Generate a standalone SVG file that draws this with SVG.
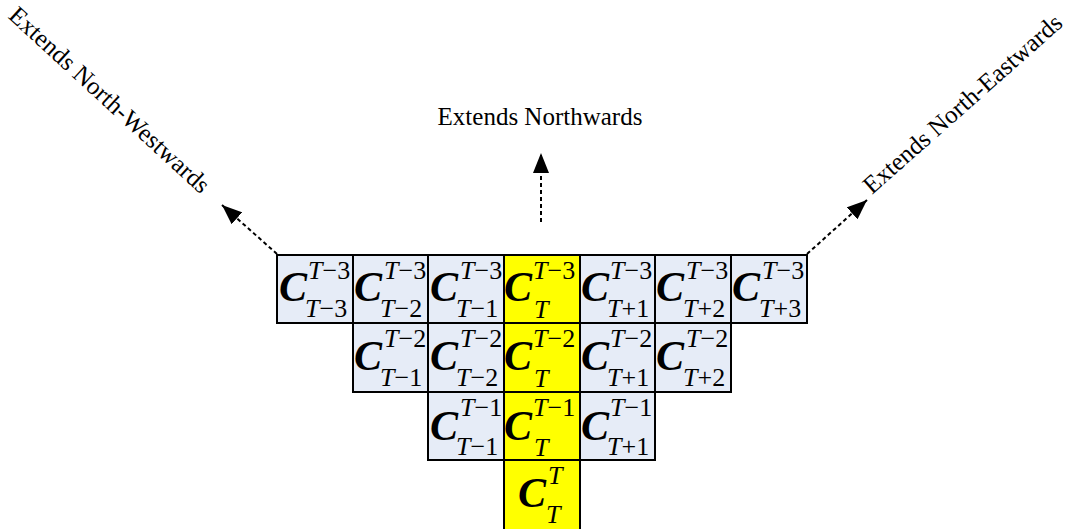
<svg xmlns="http://www.w3.org/2000/svg" width="1066" height="529" viewBox="0 0 1066 529">
<style>
.cell{fill:#E6ECF7;stroke:#000;stroke-width:2}
.y{fill:#FFFF00;stroke:#000;stroke-width:2}
.C{font-family:"Liberation Serif","Times New Roman",serif;font-weight:bold;font-style:italic;font-size:42px;fill:#000}
.s{font-family:"Liberation Serif","Times New Roman",serif;font-size:26px;fill:#000}
.i{font-style:italic}
.lbl{font-family:"Liberation Serif","Times New Roman",serif;font-size:25px;fill:#000}
.dash{stroke:#000;stroke-width:2;stroke-dasharray:4 3;fill:none}
</style>
<defs>
<marker id="ah" markerUnits="userSpaceOnUse" markerWidth="22" markerHeight="16" refX="20" refY="8" orient="auto">
<path d="M0,0 L20,8 L0,16 Z" fill="#000"/>
</marker>
</defs>

<g id="connectors">
<line class="dash" x1="541" y1="222" x2="541" y2="153" marker-end="url(#ah)"/>
<line class="dash" x1="277" y1="254" x2="222" y2="205" marker-end="url(#ah)"/>
<line class="dash" x1="807" y1="254" x2="867" y2="200" marker-end="url(#ah)"/>
</g>

<g id="labels">
<text class="lbl" x="540" y="125" text-anchor="middle">Extends Northwards</text>
<text class="lbl" x="104" y="106" text-anchor="middle" transform="rotate(42.5 104 106)">Extends North-Westwards</text>
<text class="lbl" x="968" y="110" text-anchor="middle" transform="rotate(-41.5 968 110)">Extends North-Eastwards</text>
</g>

<!-- Row 1 -->
<g id="r1c1"><rect class="cell" x="277" y="255" width="76" height="68"/><text class="C" x="279" y="301">C</text><text class="s" x="308" y="279"><tspan class="i">T</tspan>−3</text><text class="s" x="305" y="317"><tspan class="i">T</tspan>−3</text></g>
<g id="r1c2"><rect class="cell" x="353" y="255" width="75" height="68"/><text class="C" x="354" y="301">C</text><text class="s" x="384" y="279"><tspan class="i">T</tspan>−3</text><text class="s" x="380" y="317"><tspan class="i">T</tspan>−2</text></g>
<g id="r1c3"><rect class="cell" x="428" y="255" width="76" height="68"/><text class="C" x="430" y="301">C</text><text class="s" x="460" y="279"><tspan class="i">T</tspan>−3</text><text class="s" x="456" y="317"><tspan class="i">T</tspan>−1</text></g>
<g id="r1c4"><rect class="y" x="504" y="255" width="76" height="68"/><text class="C" x="504" y="301">C</text><text class="s" x="533" y="279"><tspan class="i">T</tspan>−3</text><text class="s" x="534" y="318"><tspan class="i">T</tspan></text></g>
<g id="r1c5"><rect class="cell" x="580" y="255" width="75" height="68"/><text class="C" x="581" y="301">C</text><text class="s" x="610" y="279"><tspan class="i">T</tspan>−3</text><text class="s" x="607" y="317"><tspan class="i">T</tspan>+1</text></g>
<g id="r1c6"><rect class="cell" x="655" y="255" width="76" height="68"/><text class="C" x="656" y="301">C</text><text class="s" x="686" y="279"><tspan class="i">T</tspan>−3</text><text class="s" x="683" y="317"><tspan class="i">T</tspan>+2</text></g>
<g id="r1c7"><rect class="cell" x="731" y="255" width="76" height="68"/><text class="C" x="732" y="301">C</text><text class="s" x="762" y="279"><tspan class="i">T</tspan>−3</text><text class="s" x="759" y="317"><tspan class="i">T</tspan>+3</text></g>

<!-- Row 2 -->
<g id="r2c2"><rect class="cell" x="353" y="323" width="75" height="69"/><text class="C" x="354" y="370">C</text><text class="s" x="384" y="347"><tspan class="i">T</tspan>−2</text><text class="s" x="380" y="386"><tspan class="i">T</tspan>−1</text></g>
<g id="r2c3"><rect class="cell" x="428" y="323" width="76" height="69"/><text class="C" x="430" y="370">C</text><text class="s" x="460" y="347"><tspan class="i">T</tspan>−2</text><text class="s" x="456" y="386"><tspan class="i">T</tspan>−2</text></g>
<g id="r2c4"><rect class="y" x="504" y="323" width="76" height="69"/><text class="C" x="504" y="370">C</text><text class="s" x="533" y="347"><tspan class="i">T</tspan>−2</text><text class="s" x="534" y="387"><tspan class="i">T</tspan></text></g>
<g id="r2c5"><rect class="cell" x="580" y="323" width="75" height="69"/><text class="C" x="581" y="370">C</text><text class="s" x="610" y="347"><tspan class="i">T</tspan>−2</text><text class="s" x="607" y="386"><tspan class="i">T</tspan>+1</text></g>
<g id="r2c6"><rect class="cell" x="655" y="323" width="76" height="69"/><text class="C" x="656" y="370">C</text><text class="s" x="686" y="347"><tspan class="i">T</tspan>−2</text><text class="s" x="683" y="386"><tspan class="i">T</tspan>+2</text></g>

<!-- Row 3 -->
<g id="r3c3"><rect class="cell" x="428" y="392" width="76" height="68"/><text class="C" x="430" y="440">C</text><text class="s" x="460" y="416"><tspan class="i">T</tspan>−1</text><text class="s" x="456" y="455"><tspan class="i">T</tspan>−1</text></g>
<g id="r3c4"><rect class="y" x="504" y="392" width="76" height="68"/><text class="C" x="504" y="440">C</text><text class="s" x="533" y="416"><tspan class="i">T</tspan>−1</text><text class="s" x="534" y="456"><tspan class="i">T</tspan></text></g>
<g id="r3c5"><rect class="cell" x="580" y="392" width="75" height="68"/><text class="C" x="581" y="440">C</text><text class="s" x="610" y="416"><tspan class="i">T</tspan>−1</text><text class="s" x="607" y="455"><tspan class="i">T</tspan>+1</text></g>

<!-- Row 4 -->
<g id="r4c4"><rect class="y" x="504" y="460" width="76" height="72"/><text class="C" x="518" y="507">C</text><text class="s" x="548" y="484"><tspan class="i">T</tspan></text><text class="s" x="546" y="523"><tspan class="i">T</tspan></text></g>
</svg>
